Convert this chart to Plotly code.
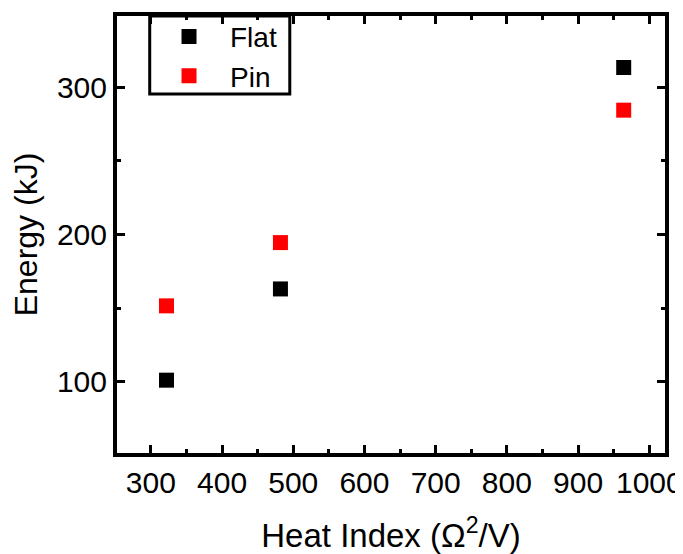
import plotly.graph_objects as go

heat_index = [322, 482, 964]
flat_energy = [101, 163, 313.5]
pin_energy = [151.5, 194.5, 284.5]

x_ticks = [300, 400, 500, 600, 700, 800, 900, 1000]
y_ticks = [100, 200, 300]

FONT = "Liberation Sans, Arial, sans-serif"

fig = go.Figure()
fig.add_trace(go.Scatter(x=heat_index, y=flat_energy, mode="markers", name="Flat",
                         marker=dict(symbol="square", size=15, color="black")))
fig.add_trace(go.Scatter(x=heat_index, y=pin_energy, mode="markers", name="Pin",
                         marker=dict(symbol="square", size=15, color="red")))

axis_common = dict(showline=True, linewidth=4, linecolor="black", mirror="allticks",
                   ticks="inside", ticklen=8, tickwidth=3, tickcolor="black",
                   showgrid=False, zeroline=False, automargin=False,
                   tickfont=dict(family=FONT, size=30, color="black"),
                   minor=dict(ticks="inside", ticklen=4, tickwidth=3, tickcolor="black", dtick=50))

fig.update_xaxes(range=[252.5, 1022], tickvals=x_ticks,
                 title=dict(text="Heat Index (Ω<sup>2</sup>/V)", font=dict(family=FONT, size=33, color="black"), standoff=30),
                 **axis_common)
fig.update_yaxes(range=[51.5, 348.5], tickvals=y_ticks,
                 title=dict(text="Energy (kJ)", font=dict(family=FONT, size=32, color="black"), standoff=22),
                 **axis_common)

fig.update_layout(width=675, height=546, margin=dict(l=109, r=18, t=4, b=101),
                  plot_bgcolor="white", paper_bgcolor="white",
                  legend=dict(x=0.0566, y=1.0098, xanchor="left", yanchor="top",
                              borderwidth=0, bgcolor="rgba(0,0,0,0)",
                              font=dict(family=FONT, size=28, color="black"),
                              itemwidth=72, tracegroupgap=0),
                  shapes=[dict(type="rect", xref="paper", yref="paper",
                               x0=0.0597, x1=0.3153, y0=0.8213, y1=1.0,
                               line=dict(color="black", width=3), fillcolor="rgba(0,0,0,0)")])

fig.write_html("out.html")
